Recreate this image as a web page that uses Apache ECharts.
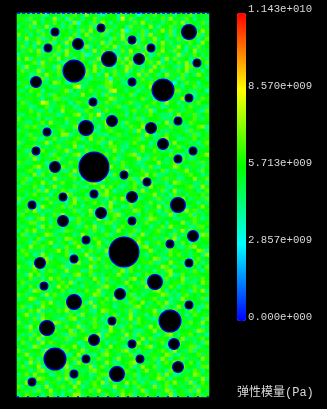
<!DOCTYPE html>
<html><head><meta charset="utf-8">
<style>html,body{margin:0;padding:0;background:#000}#c{width:327px;height:409px}</style>
<script src="https://cdn.jsdelivr.net/npm/echarts@6/dist/echarts.min.js"></script>
</head><body><div id="c"></div>
<script>
const tickLabels = ['0.000e+000','2.857e+009','5.713e+009','8.570e+009','1.143e+010'];
const tickValues = [0, 2.857e9, 5.713e9, 8.570e9, 1.143e10];
const colorTitle = '弹性模量(Pa)';
const rampColors = ['#0000ff','#00ffff','#00ff00','#ffff00','#ff0000'];
const fieldLevels = [3.1e9,3.6e9,4.1e9,4.6e9,5.1e9,5.6e9,6.0e9,6.6e9,7.3e9,8.2e9];

const poreX = [38,84,61,31,57,19,76,92,172,115,134,122,180,115,146,172,69,95,30,19,38,77,77,46,134,161,146,176,161,107,130,115,161,15,84,46,69,57,23,27,107,115,176,153,172,138,103,57,30,95,77,38,69,57,15,100,172,153,115,157,123,161];
const poreY = [19,15,31,35,58,69,89,46,19,27,35,46,50,69,77,85,115,108,119,138,154,154,181,184,115,108,131,138,146,162,169,184,192,192,200,208,227,246,250,273,239,208,223,231,250,269,281,289,315,308,327,346,346,361,369,361,292,308,331,331,346,354];
const poreR = [4.5,4.5,6,4.5,11.5,6,4.5,8,8,4.5,4.5,6,4.5,4.5,11.5,4.5,8,6,4.5,4.5,6,15.5,4.5,4.5,6,4.5,6,4.5,4.5,4.5,4.5,6,8,4.5,6,6,4.5,4.5,6,4.5,15.5,4.5,6,4.5,4.5,8,6,8,8,4.5,6,11.5,4.5,4.5,4.5,8,4.5,11.5,4.5,6,4.5,6];
const edgeX = [0,192];
const edgeTopY = [0,0];
const edgeBottomY = [384,384];

const fieldRows = [
'45536471 54626475 38463146 52736403 64753462 56473564',
'66374625 48361746 25573655 62947356 26457384 63752544',
'54638536 47536280 65374862 54653748 63542657 48365473',
'35472648 35624753 64729546 36527463 58426573 64125364',
'56364725 38465362 74856372 64803647 25368472 54637586',
'74625376 48356472 58364725 63846537 28465372 64853726',
'35846723 57463852 64736451 74835627 46835264 73856247',
'64253864 71538647 25364827 56374826 53748625 36475385',
'47362538 46752637 48253674 82635473 86257463 85263745',
'53674826 54738645 26384756 23748563 72468537 64258364',
'26455736 47258364 70263748 52637458 62374653 82647536',
'75826364 74853625 74638256 47386254 73652847 36524763',
'34567284 65327483 65274683 56748253 67482635 74836257',
'62845376 42856374 26583746 25387462 53847653 24876352',
'57364825 63748256 37486253 74682537 48652364 75834625',
'46523748 65732486 57362485 73624583 74625836 47253864',
'55436572 64357385 53264470 66352547 43655364 27455563',
'36654543 58752264 43555678 45329546 67553440 53746255',
'56247645 33465589 24653377 56445263 58735466 42557346',
'43576625 54468253 65746438 95535624 46635257 74533651',
'65445736 27566434 85536273 44657255 63489546 35672445',
'34665425 57733465 46225568 74354657 35226744 68553476',
'57345698 43565247 63553476 24567344 56753865 24436755',
'46623557 34674523 55846634 67335425 74462355 63574443',
'65574336 25485663 37542675 55436746 38255674 43665327',
'33565746 64235578 44769253 46625354 67543325 85647356',
'75446253 36557464 25735364 85546372 45563347 26557436',
'46335675 84452663 57344685 36274557 46635825 34476555',
'54767342 55634478 36552475 64347658 23556474 63345782',
'36455638 24675534 67423567 45536284 47563345 56274653',
'65374456 34588246 54763325 67445563 86234754 45637256',
'44567325 67433567 25846753 34554672 65347855 23467546',
'73554468 25346675 53647238 56436745 52467348 55634267',
'35667243 56744583 26455367 74325568 43652764 73554436',
'56234775 43668254 47365534 86254367 55743426 65387455',
'64475356 27543678 34526674 53467825 34665574 32476568',
'45638254 66735442 57663345 72455683 26745346 57423655',
'76345562 48354766 23586475 34765423 65584367 24566374',
'34557863 25476354 67345528 64735642 47325568 75346426',
'55674236 74532686 45357624 45683557 36457243 66845375',
'63458275 36456723 57448632 75345466 85723465 34675524',
'46725643 58344675 26753864 34567238 45536746 23558467',
'57346586 24675533 46782354 66435725 67344258 76453362',
'34657425 68345574 32566847 53246753 48566324 55673486',
'66453728 43576234 65537486 24465738 35647258 34665247',
'45367564 25638745 53462786 45537264 66843527 45366574',
'73545627 46563482 67354425 76835624 54376245 68534637',
'26674355 73442685 35675348 24657365 47532664 37556243',
'55436286 54673745 26456738 55237466 34586254 76345685',
'64758243 36655472 64835467 23564875 36624755 43867346',
'37546625 47384566 25735446 78356425 67543382 56472635',
'56324786 35654237 66458325 74635546 28764553 34567624',
'45677345 26583467 35524677 34562854 76435265 58347456',
'63456285 74635542 47683354 26756435 52467386 45623775',
'35768436 54327645 56374265 38546726 44673552 68375463',
'57243568 73465524 86345672 45537268 35664527 43656287',
'46635724 56348765 24576345 63824675 56343768 25547366',
'65427356 84365276 43558624 76345586 24675363 47526455',
'34586674 52437568 65247358 34665427 85436675 32678544',
'57634425 66857344 25763486 54237465 68354276 54635872',
'46752386 34557246 68345627 45687354 26543675 74436528',
'63545768 25436674 53827465 36254756 45873264 56634745',
'55326847 66543278 44675365 28743556 67324586 43567624',
'74638254 45672364 55826473 56347625 34568742 66345257',
'35467526 73548466 23765445 36827564 45263785 54637426',
'64285736 54633478 65724356 48635425 76543682 37546655',
'46573425 86745362 34586274 65347856 24653744 58263475',
'57344682 53674825 46357263 45685437 26475356 67433586',
'63575246 34867544 26543786 53247564 85336476 24567345',
'45628764 35574236 57468345 62735654 34786253 56427683',
'76345528 67435642 35687254 46357263 45568734 26745356',
'34687453 26543768 45236574 85346726 56743524 38655472',
'55463276 84357465 62835745 34627658 43576824 56374536',
'67325486 56347624 75384665 24563785 36457263 84564327',
'43576824 35768425 46325876 54637245 66832547 45376255',
'56834275 64453762 85436625 73548346 25764386 35247664',
'35647286 54326785 34675248 56368475 43265784 66435527',
'74536625 48763542 65374426 85436275 64528736 34675485',
'46285734 65347568 24576358 43267456 38574625 76345624',
'55673426 37465825 73654238 65745323 56846273 45563874',
'63427586 45632774 56348276 54386274 65324785 36675342',
'36574826 53467245 68537264 45726358 47366524 58343675',
'57346285 76543462 35786524 36457684 25467356 84563427',
'45628763 34576685 24637548 56324765 78354264 35677245',
'73465528 64327546 83564275 46783526 43567628 54372664',
'56834672 45763258 46325786 53467254 36645873 26455736',
'34576245 86354674 25647365 38546726 54738625 67344586',
'65283746 35647528 67435486 23567845 36426758 43575264',
'47365824 56738264 54826735 64357248 65734563 28654377',
'55624783 46537625 34786543 25674536 84635274 56347625',
'36758465 23647586 45236774 58346725 46573862 34658746',
'64325876 54738246 65357428 64753624 35687426 55736483',
'45873562 66345728 43675826 34586742 63245768 46382575',
'73546248 35674586 24576334 86425376 54836725 63547266',
'56362745 84536267 45738654 26756348 25644873 56372854',
'35764526 73425688 36546275 43867265 74536482 66435736'
];

const fieldData = [];
fieldRows.forEach((row, y) => {
  const cells = row.replace(/ /g, '');
  for (let x = 0; x < cells.length; x++) fieldData.push([x, y, fieldLevels[+cells[x]]]);
});
const cols = Array.from({length: 48}, (_, i) => i);
const rows = fieldRows.map((_, i) => i);
const poreData = poreX.map((x, i) => [x, poreY[i], poreR[i]]);

const LABEL = {color:'#d8d8d8', fontFamily:"'Liberation Mono','DejaVu Sans Mono',monospace", fontSize:10.7};
const chart = echarts.init(document.getElementById('c'), null, {renderer:'canvas'});
chart.setOption({
  backgroundColor:'#000',
  animation:false,
  title:{text:colorTitle,left:237,top:387,padding:0,textStyle:{color:'#d8d8d8',fontSize:12,fontWeight:'normal',fontFamily:"'Liberation Mono','Noto Sans CJK SC',sans-serif"}},
  grid:[
    {left:17,top:13,width:192,height:384,show:false},
    {left:237,top:13,width:9,height:308,show:false}
  ],
  xAxis:[
    {type:'category',gridIndex:0,data:cols,show:false},
    {type:'value',gridIndex:0,min:0,max:192,show:false},
    {type:'value',gridIndex:1,min:0,max:1,show:false}
  ],
  yAxis:[
    {type:'category',gridIndex:0,data:rows,inverse:true,show:false},
    {type:'value',gridIndex:0,min:0,max:384,inverse:true,show:false},
    {type:'value',gridIndex:1,min:tickValues[0],max:tickValues[4],position:'right',
     interval:2857500000,
     axisLine:{show:false},axisTick:{show:false},splitLine:{show:false},
     axisLabel:Object.assign({margin:2,verticalAlign:'bottom',lineHeight:8,formatter:(v,i)=>tickLabels[i]},LABEL)}
  ],
  visualMap:{type:'continuous',min:tickValues[0],max:tickValues[4],left:237,top:13,itemWidth:9,itemHeight:308,padding:0,
    calculable:false,seriesIndex:0,text:null,showLabel:false,inRange:{color:rampColors},textStyle:{color:'transparent'},hoverLink:false},
  series:[
    {type:'heatmap',xAxisIndex:0,yAxisIndex:0,data:fieldData,progressive:0,silent:true},
    {type:'custom',xAxisIndex:1,yAxisIndex:1,data:poreData,silent:true,z:5,clip:false,
     encode:{x:0,y:1},
     renderItem:(params,api)=>{
       const c = api.coord([api.value(0),api.value(1)]);
       const r = api.size([api.value(2),0])[0];
       return {type:'circle',shape:{cx:c[0],cy:c[1],r:r-0.6},style:{fill:'#000',stroke:'#0000e6',lineWidth:1.2}};
     }},
    {type:'line',xAxisIndex:1,yAxisIndex:1,data:edgeX.map((x,i)=>[x,edgeTopY[i]]),symbol:'none',z:6,silent:true,clip:false,
     lineStyle:{color:'#0000e0',width:1.5,type:[3,2]}},
    {type:'line',xAxisIndex:1,yAxisIndex:1,data:edgeX.map((x,i)=>[x,edgeBottomY[i]]),symbol:'none',z:6,silent:true,clip:false,
     lineStyle:{color:'#0000e0',width:1.5,type:[2,8]}}
  ]
});
</script></body></html>
